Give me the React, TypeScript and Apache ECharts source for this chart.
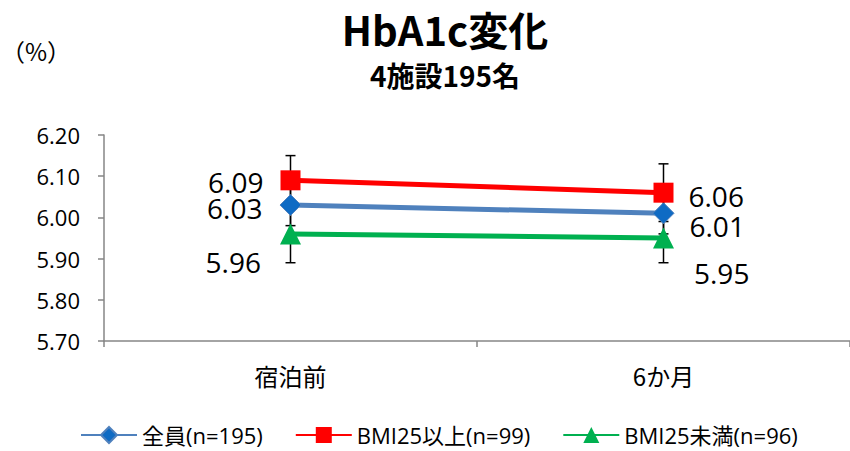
import React, { useEffect, useRef } from 'react';
import * as echarts from 'echarts';

// Observation points and groups
const categories = ['宿泊前', '6か月'];
const seriesNames = ['全員(n=195)', 'BMI25以上(n=99)', 'BMI25未満(n=96)'];

// Mean HbA1c (%) per group
const allValues = [6.03, 6.01];
const highValues = [6.09, 6.06];
const lowValues = [5.96, 5.95];

// Half-length of the error bars per group
const allErrors = [0.05, 0.05];
const highErrors = [0.06, 0.07];
const lowErrors = [0.07, 0.06];

// Y axis range
const yMin = 5.7;
const yMax = 6.2;
const yStep = 0.1;

const FONT = "'Open Sans', 'Noto Sans CJK JP', sans-serif";
const CJK = "'Noto Sans CJK JP', sans-serif";

type LabelSpec = { position: 'left' | 'right'; distance: number; dy: number };

const withLabels = (values: number[], specs: LabelSpec[]) =>
  values.map((v, i) => ({
    value: v,
    label: {
      show: true,
      position: specs[i].position,
      distance: specs[i].distance,
      offset: [0, specs[i].dy],
      formatter: () => v.toFixed(2),
      fontSize: 28,
      lineHeight: 22,
      fontFamily: FONT,
      color: '#000',
    },
  }));

const errorData = (values: number[], errors: number[]) =>
  values.map((v, i) => [i, v - errors[i], v + errors[i]]);

export default function App() {
  const ref = useRef<HTMLDivElement>(null);

  useEffect(() => {
    if (!ref.current) return;
    const chart = echarts.init(ref.current, null, { renderer: 'svg' });

    const errorBar = (params: any, api: any) => {
      const x = api.value(0);
      const lo = api.coord([x, api.value(1)]);
      const hi = api.coord([x, api.value(2)]);
      const half = 5;
      const style = { stroke: '#000', lineWidth: 1.5 };
      return {
        type: 'group',
        children: [
          { type: 'line', shape: { x1: hi[0], y1: hi[1], x2: lo[0], y2: lo[1] }, style },
          { type: 'line', shape: { x1: hi[0] - half, y1: hi[1], x2: hi[0] + half, y2: hi[1] }, style },
          { type: 'line', shape: { x1: lo[0] - half, y1: lo[1], x2: lo[0] + half, y2: lo[1] }, style },
        ],
      };
    };

    chart.setOption({
      animation: false,
      backgroundColor: '#fff',
      grid: { left: 104, right: -6, top: 135, bottom: 110, containLabel: false },
      graphic: [
        {
          type: 'text',
          x: 445,
          y: 29,
          style: {
            text: 'HbA1c変化',
            align: 'center',
            verticalAlign: 'middle',
            font: `bold 40px ${CJK}`,
            fill: '#000',
          },
        },
        {
          type: 'text',
          x: 445,
          y: 75,
          style: {
            text: '4施設195名',
            align: 'center',
            verticalAlign: 'middle',
            font: `bold 28px ${CJK}`,
            fill: '#000',
          },
        },
        {
          type: 'text',
          x: 1,
          y: 50,
          style: {
            text: '（%）',
            align: 'left',
            verticalAlign: 'middle',
            font: `24px ${CJK}`,
            fill: '#000',
          },
        },
      ],
      legend: {
        data: seriesNames,
        left: 80,
        top: 424,
        padding: 0,
        itemWidth: 56,
        itemHeight: 20,
        itemGap: 32,
        textStyle: { fontSize: 22, lineHeight: 20, fontFamily: FONT, color: '#000' },
      },
      xAxis: {
        type: 'category',
        data: categories,
        boundaryGap: true,
        axisLine: { show: true, lineStyle: { color: '#868686', width: 1.5 } },
        axisTick: { show: true, length: 6, lineStyle: { color: '#868686', width: 1.5 } },
        axisLabel: { fontSize: 24, fontFamily: CJK, color: '#000', margin: 22 },
        splitLine: { show: false },
      },
      yAxis: {
        type: 'value',
        min: yMin,
        max: yMax,
        interval: yStep,
        axisLine: { show: true, lineStyle: { color: '#868686', width: 1.5 } },
        axisTick: { show: true, length: 6, lineStyle: { color: '#868686', width: 1.5 } },
        axisLabel: {
          fontSize: 22,
          fontFamily: FONT,
          color: '#000',
          margin: 24,
          formatter: (v: number) => v.toFixed(2),
        },
        splitLine: { show: false },
      },
      series: [
        {
          type: 'custom',
          name: 'err-all',
          renderItem: errorBar,
          data: errorData(allValues, allErrors),
          encode: { x: 0, y: [1, 2] },
          z: 1,
          silent: true,
        },
        {
          type: 'custom',
          name: 'err-high',
          renderItem: errorBar,
          data: errorData(highValues, highErrors),
          encode: { x: 0, y: [1, 2] },
          z: 1,
          silent: true,
        },
        {
          type: 'custom',
          name: 'err-low',
          renderItem: errorBar,
          data: errorData(lowValues, lowErrors),
          encode: { x: 0, y: [1, 2] },
          z: 1,
          silent: true,
        },
        {
          type: 'line',
          name: seriesNames[0],
          data: withLabels(allValues, [
            { position: 'left', distance: 17, dy: 3 },
            { position: 'right', distance: 15, dy: 13 },
          ]),
          symbol: 'diamond',
          symbolSize: 21,
          lineStyle: { color: '#4F81BD', width: 5 },
          itemStyle: { color: '#0F6BC4', borderColor: '#4F81BD', borderWidth: 1 },
          z: 3,
        },
        {
          type: 'line',
          name: seriesNames[1],
          data: withLabels(highValues, [
            { position: 'left', distance: 17, dy: 2 },
            { position: 'right', distance: 15, dy: 3 },
          ]),
          symbol: 'rect',
          symbolSize: 20,
          lineStyle: { color: '#FF0000', width: 5 },
          itemStyle: { color: '#FF0000' },
          z: 4,
        },
        {
          type: 'line',
          name: seriesNames[2],
          data: withLabels(lowValues, [
            { position: 'left', distance: 19, dy: 28 },
            { position: 'right', distance: 20, dy: 35 },
          ]),
          symbol: 'triangle',
          symbolSize: 21,
          lineStyle: { color: '#00B050', width: 5 },
          itemStyle: { color: '#00B050' },
          z: 2,
        },
      ],
    });

    return () => chart.dispose();
  }, []);

  return (
    <div
      ref={ref}
      style={{ position: 'fixed', left: 0, top: 0, width: 850, height: 451 }}
    />
  );
}
